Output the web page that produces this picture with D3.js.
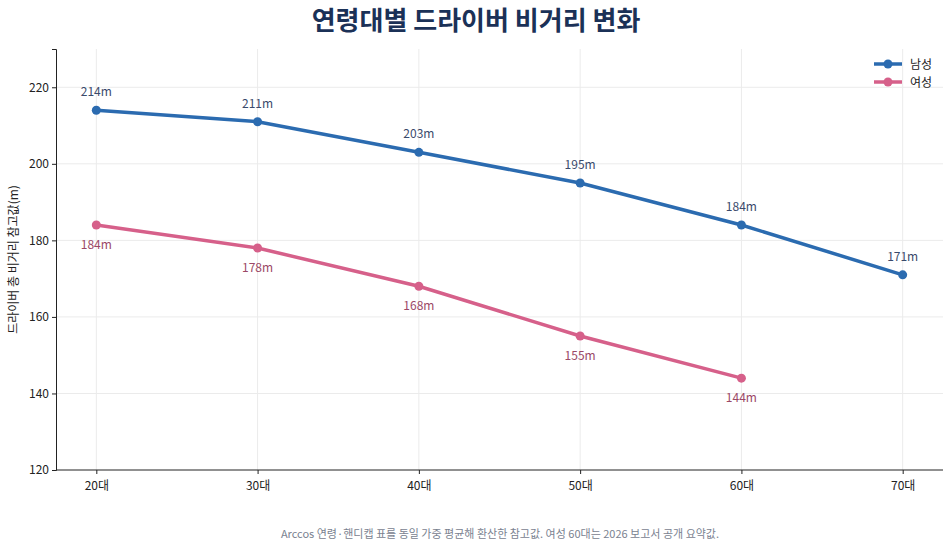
<!DOCTYPE html>
<html><head><meta charset="utf-8">
<script src="https://cdn.jsdelivr.net/npm/d3@7"></script>
<style>body{margin:0;background:#fff;font-family:"Noto Sans CJK KR","Noto Sans",sans-serif;}</style>
</head><body><svg id="c" width="952" height="549"></svg>
<script>
var ages = ['20대', '30대', '40대', '50대', '60대', '70대'];
var male = [214, 211, 203, 195, 184, 171];
var female = [184, 178, 168, 155, 144];
var yTicks = [120, 140, 160, 180, 200, 220];

var svg = d3.select('#c');
var m = {l: 56, r: 943, t: 49, b: 470};
var x = d3.scalePoint().domain(ages).range([m.l, m.r]).padding(0.25);
var y = d3.scaleLinear().domain([120, 230]).range([m.b, m.t]);

svg.append('text').attr('x', 476).attr('y', 30).attr('text-anchor', 'middle')
	.attr('font-size', 26).attr('font-weight', 'bold').attr('fill', '#1b3157').text('연령대별 드라이버 비거리 변화');

// grid
svg.append('g').selectAll('line').data(yTicks.slice(1)).join('line')
	.attr('x1', m.l).attr('x2', m.r).attr('y1', d => y(d)).attr('y2', d => y(d))
	.attr('stroke', '#ebebeb');
svg.append('g').selectAll('line').data(ages).join('line')
	.attr('x1', d => x(d)).attr('x2', d => x(d)).attr('y1', m.t).attr('y2', m.b)
	.attr('stroke', '#ebebeb');

var ya = svg.append('g').attr('transform', 'translate(' + m.l + ',0)')
	.call(d3.axisLeft(y).tickValues(yTicks).tickSize(4));
var xa = svg.append('g').attr('transform', 'translate(0,' + m.b + ')')
	.call(d3.axisBottom(x).tickSize(4));
xa.select('.domain').attr('d', 'M' + m.l + ',0H' + m.r);
[ya, xa].forEach(a => {
	a.selectAll('text').attr('font-size', 12).attr('fill', '#222').attr('font-family', '"Noto Sans CJK KR"');
	a.selectAll('line,.domain').attr('stroke', '#222');
});
xa.selectAll('text').attr('dy', '1.1em');

svg.append('text').attr('transform', 'translate(18,' + ((m.t + m.b) / 2) + ') rotate(-90)')
	.attr('text-anchor', 'middle').attr('font-size', 12).attr('fill', '#222').text('드라이버 총 비거리 참고값(m)');

var series = [
	{name: '남성', vals: male, color: '#2b6bb0', lab: '#3a4a6b', dy: -14},
	{name: '여성', vals: female, color: '#d6608a', lab: '#9b4866', dy: 24}
];
var line = d3.line().x(d => x(d.a)).y(d => y(d.v));
series.forEach(s => {
	var pts = s.vals.map((v, i) => ({a: ages[i], v: v}));
	svg.append('path').datum(pts).attr('d', line).attr('fill', 'none')
		.attr('stroke', s.color).attr('stroke-width', 3.5);
	svg.append('g').selectAll('circle').data(pts).join('circle')
		.attr('cx', d => x(d.a)).attr('cy', d => y(d.v)).attr('r', 4.5).attr('fill', s.color);
	svg.append('g').selectAll('text').data(pts).join('text')
		.attr('x', d => x(d.a)).attr('y', d => y(d.v) + s.dy).attr('text-anchor', 'middle')
		.attr('font-size', 12).attr('fill', s.lab).text(d => d.v + 'm');
});

var lg = svg.append('g').attr('transform', 'translate(874,64)');
series.forEach((s, i) => {
	var g = lg.append('g').attr('transform', 'translate(0,' + i * 18 + ')');
	g.append('line').attr('x1', 0).attr('x2', 28).attr('stroke', s.color).attr('stroke-width', 3.5);
	g.append('circle').attr('cx', 14).attr('r', 4.5).attr('fill', s.color);
	g.append('text').attr('x', 36).attr('y', 4.5).attr('font-size', 12).attr('fill', '#222').text(s.name);
});

svg.append('text').attr('x', 500).attr('y', 538).attr('text-anchor', 'middle').attr('font-size', 11)
	.attr('fill', '#7a8290').text('Arccos 연령·핸디캡 표를 동일 가중 평균해 환산한 참고값. 여성 60대는 2026 보고서 공개 요약값.');
</script></body></html>
